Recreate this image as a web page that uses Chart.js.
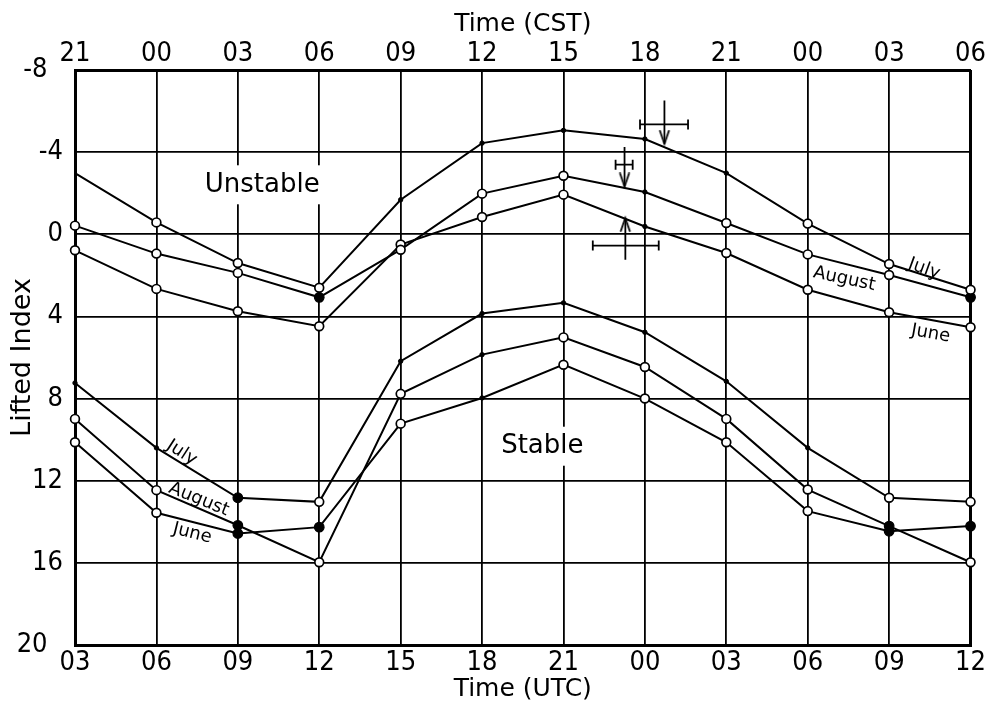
<!DOCTYPE html>
<html><head><meta charset="utf-8">
<script src="https://cdn.jsdelivr.net/npm/chart.js@4"></script>
<style>html,body{margin:0;padding:0;background:#fff;}canvas{display:block}</style>
</head><body>
<canvas id="c" width="988" height="702"></canvas>
<script>
// ---- categories / tick labels ----
const utcLabels = ['03','06','09','12','15','18','21','00','03','06','09','12'];
const cstLabels = ['21','00','03','06','09','12','15','18','21','00','03','06'];
const yMin = -8, yMax = 20, yStep = 4;

// ---- series values (Lifted Index) ----
const julyUpper   = [-2.98, -0.58, 1.40, 2.60, -1.68, -4.44, -5.06, -4.64, -2.98, -0.52, 1.45, 2.70];
const augustUpper = [-0.42, 0.94, 1.88, 3.07, 0.75, -1.98, -2.85, -2.06, -0.55, 0.98, 1.98, 3.07];
const juneUpper   = [0.78, 2.66, 3.75, 4.48, 0.50, -0.84, -1.93, -0.38, 0.91, 2.70, 3.80, 4.53];
const julyLower   = [7.24, 10.40, 12.83, 13.03, 6.18, 3.86, 3.34, 4.77, 7.16, 10.40, 12.83, 13.03];
const augustLower = [8.99, 12.46, 14.17, 15.97, 7.77, 5.86, 5.02, 6.46, 8.99, 12.43, 14.21, 15.97];
const juneLower   = [10.13, 13.56, 14.57, 14.26, 9.22, 7.97, 6.35, 8.00, 10.13, 13.48, 14.46, 14.21];

// marker kinds: o = open circle, f = filled circle, d = small dot, n = none
const julyUpperMarks   = ['n','o','o','o','d','d','d','d','d','o','o','o'];
const augustUpperMarks = ['o','o','o','f','o','o','o','d','o','o','o','f'];
const juneUpperMarks   = ['o','o','o','o','o','o','o','d','o','o','o','o'];
const julyLowerMarks   = ['d','d','f','o','d','d','d','d','d','d','o','o'];
const augustLowerMarks = ['o','o','f','o','o','d','o','o','o','o','f','o'];
const juneLowerMarks   = ['o','o','f','f','o','d','o','o','o','o','f','f'];

// ---- error crosses (x in category index units, y in Lifted Index) ----
const crossX     = [7.24, 6.75, 6.76];
const crossXLo   = [6.94, 6.64, 6.36];
const crossXHi   = [7.53, 6.85, 7.17];
const crossY     = [-5.35, -3.39, 0.55];
const crossYTop  = [-6.51, -4.25, -0.79];
const crossYBot  = [-4.41, -2.33, 1.24];
const crossArrow = ['down', 'down', 'up'];

// ---- text annotations ----
const noteText = ['Unstable','Stable','July','August','June','July','August','June'];
const noteX    = [2.30, 5.74, 10.43, 9.45, 10.51, 1.31, 1.52, 1.44];
const noteY    = [-2.41, 10.32, 1.69, 2.18, 4.84, 10.64, 12.91, 14.57];
const noteRot  = [0, 0, 20, 12, 10, 33, 22, 14];
const noteSize = [26, 26, 18, 18, 18, 18, 18, 18];
const noteBox  = [true, true, false, false, false, false, false, false];

const FONT = "'DejaVu Sans', sans-serif";
const TICKFONT = "'DejaVu Sans Condensed', 'DejaVu Sans', sans-serif";

function markStyle(m){
  if (m === 'o') return {r:4.4, bg:'#fff', bw:1.7};
  if (m === 'f') return {r:4.8, bg:'#000', bw:1.2};
  if (m === 'd') return {r:2.2, bg:'#000', bw:1};
  return {r:0, bg:'#000', bw:0};
}

function seriesDataset(label, vals, marks){
  const st = marks.map(markStyle);
  return {
    label, data: vals.map((v,i)=>({x:i, y:v})),
    borderColor:'#000', borderWidth:2, tension:0, clip:10,
    pointRadius: st.map(s=>s.r), pointBackgroundColor: st.map(s=>s.bg),
    pointBorderColor:'#000', pointBorderWidth: st.map(s=>s.bw), pointStyle:'circle'
  };
}

function makeArrow(){
  const c = document.createElement('canvas');
  c.width = 28; c.height = 28;
  const g = c.getContext('2d');
  g.strokeStyle = '#000'; g.lineWidth = 1.8; g.lineCap='round';
  g.beginPath(); g.moveTo(9.5,1); g.lineTo(14,14); g.lineTo(18.5,1); g.stroke();
  return c;
}
const arrowImg = makeArrow();

const datasets = [
  seriesDataset('July', julyUpper, julyUpperMarks),
  seriesDataset('August', augustUpper, augustUpperMarks),
  seriesDataset('June', juneUpper, juneUpperMarks),
  seriesDataset('July ', julyLower, julyLowerMarks),
  seriesDataset('August ', augustLower, augustLowerMarks),
  seriesDataset('June ', juneLower, juneLowerMarks)
];
crossX.forEach((cx,i)=>{
  datasets.push({
    label:'hbar'+i, data:[{x:crossXLo[i], y:crossY[i]},{x:crossXHi[i], y:crossY[i]}],
    borderColor:'#000', borderWidth:1.8, pointStyle:'line', pointRotation:90,
    pointRadius:5, pointBorderColor:'#000', pointBorderWidth:1.8, clip:10
  });
  const down = crossArrow[i] === 'down';
  datasets.push({
    label:'vbar'+i, data:[{x:cx, y:crossYTop[i]},{x:cx, y:crossYBot[i]}],
    borderColor:'#000', borderWidth:1.8,
    pointStyle: down ? [false, arrowImg] : [arrowImg, false],
    pointRotation: down ? 0 : 180,
    pointRadius: down ? [0,3] : [3,0], clip:10
  });
});

const notesPlugin = {
  id:'notes',
  beforeDatasetsDraw(chart){ drawNotes(chart, true); },
  afterDatasetsDraw(chart){ drawNotes(chart, false); }
};
function drawNotes(chart, boxed){
  const ctx = chart.ctx, xs = chart.scales.x, ys = chart.scales.y;
  noteText.forEach((t,i)=>{
    if (noteBox[i] !== boxed) return;
    const px = xs.getPixelForValue(noteX[i]), py = ys.getPixelForValue(noteY[i]);
    ctx.save();
    ctx.translate(px, py);
    ctx.rotate(noteRot[i]*Math.PI/180);
    ctx.font = noteSize[i] + 'px ' + FONT;
    ctx.textAlign = 'center'; ctx.textBaseline = 'middle';
    if (boxed){
      const w = ctx.measureText(t).width;
      ctx.fillStyle = '#fff';
      ctx.fillRect(-w/2-10, -noteSize[i]*0.75, w+20, noteSize[i]*1.5);
    }
    ctx.fillStyle = '#000';
    ctx.fillText(t, 0, 0);
    ctx.restore();
  });
}

const gridW = (ctx, n) => (ctx.index === 0 || ctx.index === n) ? 3 : 1.8;

new Chart(document.getElementById('c'), {
  type:'line',
  data:{ datasets },
  plugins:[notesPlugin],
  options:{
    responsive:false, animation:false, devicePixelRatio:1,
    layout:{ padding:{ left:0, right:15, top:0, bottom:0 } },
    plugins:{ legend:{display:false}, tooltip:{enabled:false} },
    scales:{
      x:{
        type:'linear', position:'bottom', min:0, max:utcLabels.length-1,
        afterFit(s){ s.height = 57; },
        ticks:{ stepSize:1, autoSkip:false, color:'#000', padding:2,
          font:{family:TICKFONT, size:27},
          callback:(v)=> utcLabels[Math.round(v)] },
        grid:{ color:'#000', lineWidth:(c)=>gridW(c, utcLabels.length-1), drawTicks:false },
        border:{ display:true, color:'#000', width:3 },
        title:{ display:true, text:'Time (UTC)', color:'#000',
          font:{family:FONT, size:25, lineHeight:1}, padding:{top:0, bottom:0} }
      },
      xTop:{
        type:'linear', position:'top', min:0, max:cstLabels.length-1,
        afterFit(s){ s.height = 70; },
        ticks:{ stepSize:1, autoSkip:false, color:'#000', padding:0,
          font:{family:TICKFONT, size:27},
          callback:(v)=> cstLabels[Math.round(v)] },
        grid:{ display:false, drawTicks:false },
        border:{ display:true, color:'#000', width:3 },
        title:{ display:true, text:'Time (CST)', color:'#000',
          font:{family:FONT, size:25, lineHeight:1}, padding:{top:12, bottom:0} }
      },
      y:{
        type:'linear', position:'left', reverse:true, min:yMin, max:yMax,
        afterFit(s){ s.width = 75; },
        ticks:{ stepSize:yStep, color:'#000', padding:12,
          font:{family:TICKFONT, size:27},
          callback:(v)=> (v === yMin || v === yMax) ? v + '  ' : String(v) },
        grid:{ color:'#000', lineWidth:(c)=>gridW(c, (yMax-yMin)/yStep), drawTicks:false },
        border:{ display:true, color:'#000', width:3 },
        title:{ display:true, text:'Lifted Index', color:'#000',
          font:{family:FONT, size:27, lineHeight:1}, padding:{top:9, bottom:0} }
      }
    }
  }
});
</script>
</body></html>
